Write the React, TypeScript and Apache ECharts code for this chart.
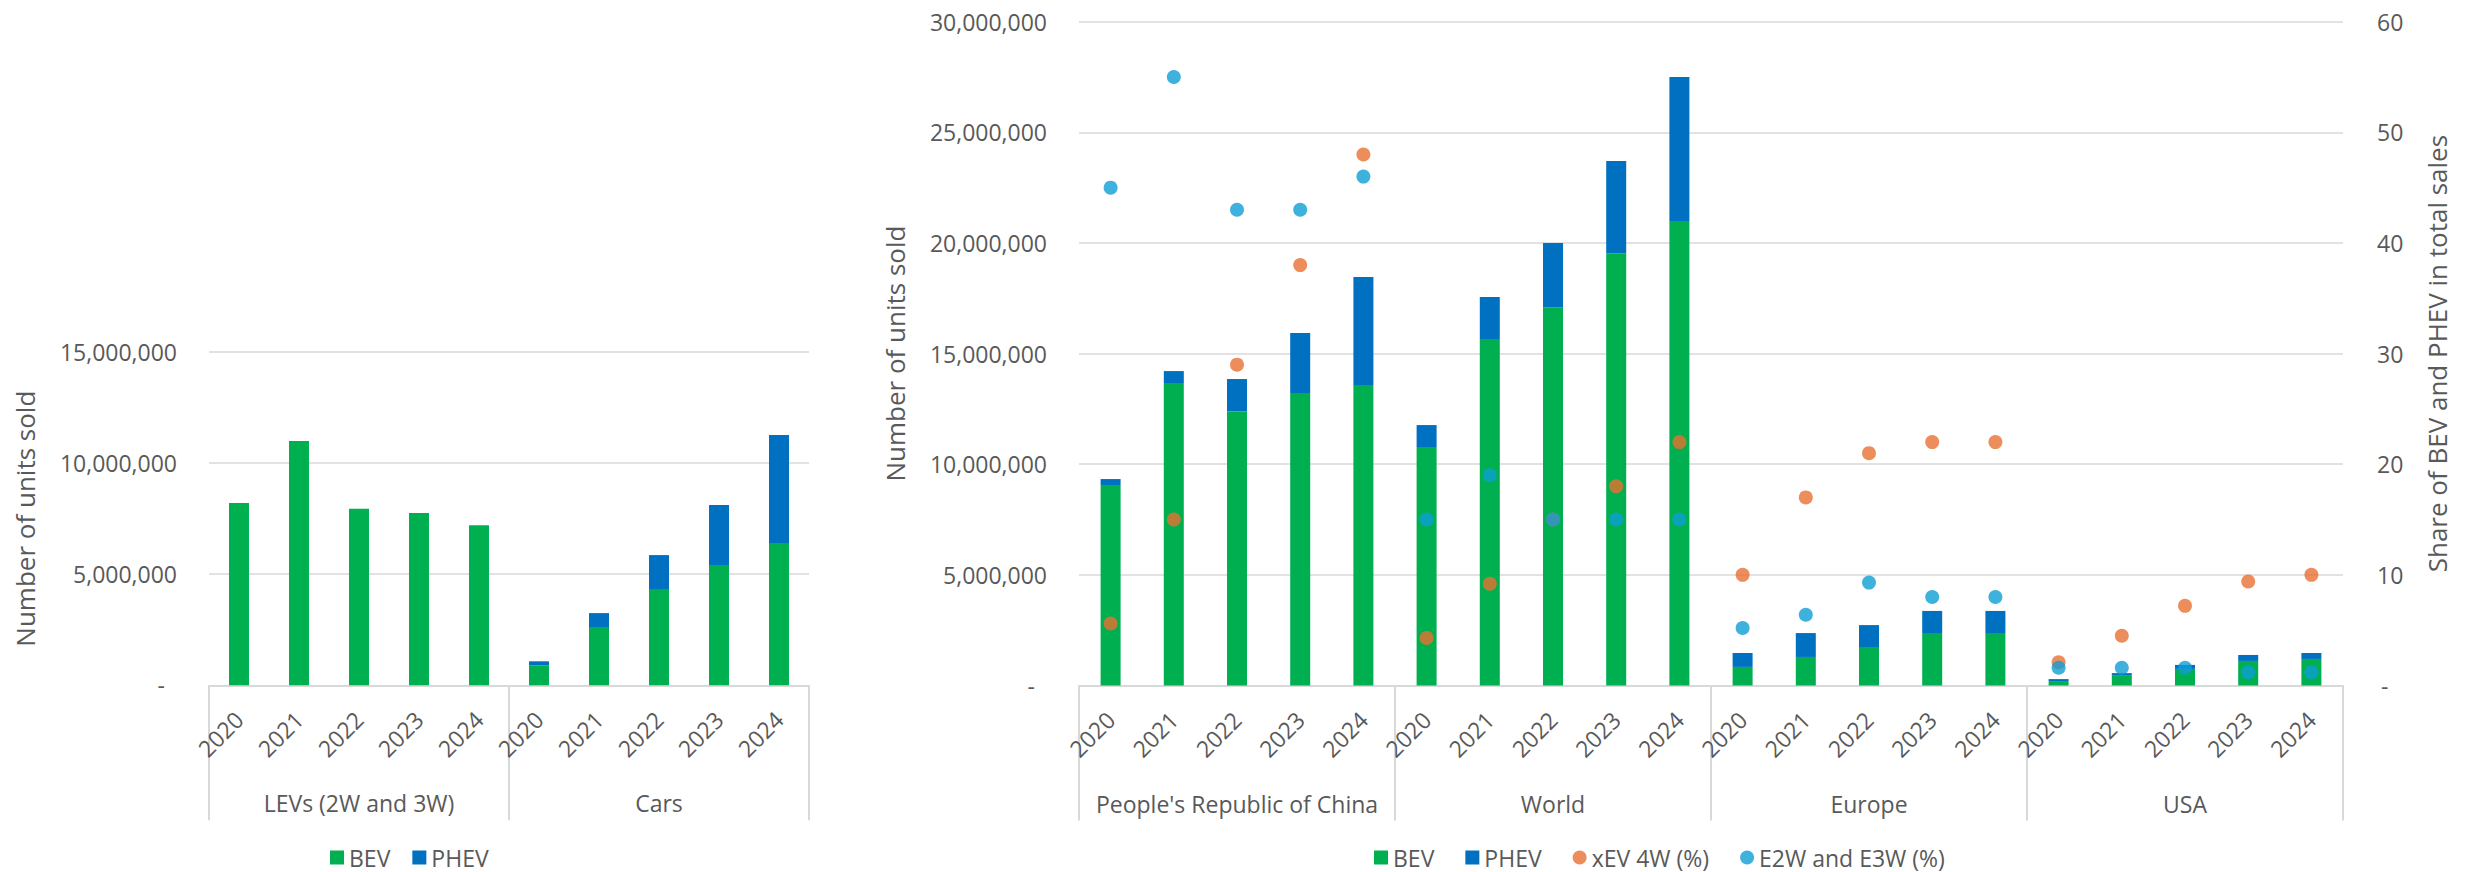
import React, { useEffect, useRef } from "react";
import * as echarts from "echarts";

// ---------- data ----------
const years = ["2020", "2021", "2022", "2023", "2024"];
const leftGroups = ["LEVs (2W and 3W)", "Cars"];
const rightGroups = ["People's Republic of China", "World", "Europe", "USA"];

// Left chart (units sold)
const levBEV = [8200000, 11000000, 7950000, 7750000, 7200000];
const levPHEV = [0, 0, 0, 0, 0];
const carsBEV = [900000, 2620000, 4330000, 5410000, 6400000];
const carsPHEV = [180000, 630000, 1530000, 2700000, 4860000];

// Right chart (units sold)
const chinaBEV = [9060000, 13670000, 12400000, 13220000, 13580000];
const chinaPHEV = [270000, 540000, 1450000, 2710000, 4880000];
const worldBEV = [10780000, 15660000, 17100000, 19540000, 20990000];
const worldPHEV = [990000, 1900000, 2900000, 4160000, 6510000];
const europeBEV = [840000, 1290000, 1740000, 2370000, 2370000];
const europePHEV = [630000, 1080000, 990000, 1000000, 1000000];
const usaBEV = [200000, 470000, 750000, 1110000, 1200000];
const usaPHEV = [90000, 90000, 180000, 270000, 270000];

// Right chart shares (%)
const chinaXEV4W = [5.6, 15, 29, 38, 48];
const worldXEV4W = [4.3, 9.2, 15, 18, 22];
const europeXEV4W = [10, 17, 21, 22, 22];
const usaXEV4W = [2.1, 4.5, 7.2, 9.4, 10];
const chinaE2W = [45, 55, 43, 43, 46];
const worldE2W = [15, 19, 15, 15, 15];
const europeE2W = [5.2, 6.4, 9.3, 8, 8];
const usaE2W = [1.6, 1.6, 1.6, 1.2, 1.2];

// ---------- style ----------
const W = 2469;
const H = 872;
const TEXT = "#595959";
const GRID = "#d9d9d9";
const GREEN = "#00b050";
const BLUE = "#0070c0";
const ORANGE = "#e97132";
const LIGHTBLUE = "#0f9ed5";
const FONT = "Open Sans";
const FS = 23;

const catKeys = (groups: string[]) => groups.flatMap((g) => years.map((y) => g + "|" + y));

const fmtUnits = (v: number) => (v === 0 ? "{z|-}" : v.toLocaleString("en-US"));
const fmtPct = (v: number) => (v === 0 ? "{z|-}" : String(v));

function yearAxis(gridIndex: number, groups: string[]) {
  return {
    type: "category",
    gridIndex,
    data: catKeys(groups),
    position: "bottom",
    axisLine: { show: true, lineStyle: { color: GRID, width: 2 } },
    axisTick: { show: false },
    axisLabel: {
      interval: 0,
      rotate: 45,
      margin: 30,
      color: TEXT,
      fontSize: FS,
      fontFamily: FONT,
      formatter: (v: string) => v.split("|")[1],
    },
    splitLine: { show: false },
  };
}

function groupAxis(gridIndex: number, groups: string[]) {
  return {
    type: "category",
    gridIndex,
    data: groups,
    position: "bottom",
    axisLine: { show: false },
    axisTick: {
      show: true,
      length: 135,
      interval: 0,
      alignWithLabel: false,
      lineStyle: { color: GRID, width: 2 },
    },
    axisLabel: {
      interval: 0,
      margin: 118,
      verticalAlign: "middle",
      color: TEXT,
      fontSize: FS,
      fontFamily: FONT,
    },
    splitLine: { show: false },
  };
}

function valueAxis(
  gridIndex: number,
  max: number,
  interval: number,
  position: string,
  name: string,
  nameGap: number,
  fmt: (v: number) => string,
  showSplit: boolean,
  zeroPad: number[]
) {
  return {
    type: "value",
    gridIndex,
    position,
    min: 0,
    max,
    interval,
    name,
    nameLocation: "middle",
    nameGap,
    nameTextStyle: { color: TEXT, fontSize: 26, fontFamily: FONT },
    axisLine: { show: false },
    axisTick: { show: false },
    axisLabel: {
      margin: position === "right" ? 34 : 32,
      color: TEXT,
      fontSize: FS,
      fontFamily: FONT,
      formatter: fmt,
      rich: { z: { color: TEXT, fontSize: FS, fontFamily: FONT, padding: zeroPad } },
    },
    splitLine: { show: showSplit, lineStyle: { color: GRID, width: 1.5 } },
  };
}

export default function App() {
  const ref = useRef<HTMLDivElement>(null);

  useEffect(() => {
    if (!ref.current) return;
    const chart = echarts.init(ref.current, null, { renderer: "svg" });

    const leftBEV = [...levBEV, ...carsBEV];
    const leftPHEV = [...levPHEV, ...carsPHEV];
    const rightBEV = [...chinaBEV, ...worldBEV, ...europeBEV, ...usaBEV];
    const rightPHEV = [...chinaPHEV, ...worldPHEV, ...europePHEV, ...usaPHEV];
    const xev = [...chinaXEV4W, ...worldXEV4W, ...europeXEV4W, ...usaXEV4W];
    const e2w = [...chinaE2W, ...worldE2W, ...europeE2W, ...usaE2W];

    const legendText = { color: TEXT, fontSize: FS, fontFamily: FONT, lineHeight: 20 };

    const option: any = {
      animation: false,
      backgroundColor: "#ffffff",
      textStyle: { fontFamily: FONT, color: TEXT },
      grid: [
        { left: 209, top: 352, width: 600, height: 333.3 },
        { left: 1079, top: 21.7, width: 1264, height: 663.8 },
      ],
      xAxis: [
        yearAxis(0, leftGroups),
        groupAxis(0, leftGroups),
        yearAxis(1, rightGroups),
        groupAxis(1, rightGroups),
      ],
      yAxis: [
        valueAxis(0, 15000000, 5000000, "left", "Number of units sold", 171, fmtUnits, true, [0, 12, 0, 0]),
        valueAxis(1, 30000000, 5000000, "left", "Number of units sold", 171, fmtUnits, true, [0, 12, 0, 0]),
        valueAxis(1, 60, 10, "right", "Share of BEV and PHEV in total sales", 81, fmtPct, false, [0, 0, 0, 4]),
      ],
      legend: [
        {
          left: 330,
          top: 846,
          padding: 0,
          itemWidth: 14,
          itemHeight: 14,
          itemGap: 22,
          textStyle: legendText,
          data: [
            { name: "BEV", icon: "rect" },
            { name: "PHEV", icon: "rect" },
          ],
        },
        {
          left: 1374,
          top: 846,
          padding: 0,
          itemWidth: 14,
          itemHeight: 14,
          itemGap: 31,
          textStyle: legendText,
          data: [
            { name: "BEV", icon: "rect" },
            { name: "PHEV", icon: "rect" },
            { name: "xEV 4W (%)", icon: "circle" },
            { name: "E2W and E3W (%)", icon: "circle" },
          ],
        },
      ],
      series: [
        {
          name: "BEV",
          type: "bar",
          xAxisIndex: 0,
          yAxisIndex: 0,
          stack: "left",
          barWidth: 20,
          itemStyle: { color: GREEN },
          data: leftBEV,
        },
        {
          name: "PHEV",
          type: "bar",
          xAxisIndex: 0,
          yAxisIndex: 0,
          stack: "left",
          barWidth: 20,
          itemStyle: { color: BLUE },
          data: leftPHEV,
        },
        {
          name: "BEV",
          type: "bar",
          xAxisIndex: 2,
          yAxisIndex: 1,
          stack: "right",
          barWidth: 20,
          itemStyle: { color: GREEN },
          data: rightBEV,
        },
        {
          name: "PHEV",
          type: "bar",
          xAxisIndex: 2,
          yAxisIndex: 1,
          stack: "right",
          barWidth: 20,
          itemStyle: { color: BLUE },
          data: rightPHEV,
        },
        {
          name: "xEV 4W (%)",
          type: "scatter",
          xAxisIndex: 2,
          yAxisIndex: 2,
          symbol: "circle",
          symbolSize: 14,
          itemStyle: { color: ORANGE },
          z: 3,
          data: xev,
        },
        {
          name: "E2W and E3W (%)",
          type: "scatter",
          xAxisIndex: 2,
          yAxisIndex: 2,
          symbol: "circle",
          symbolSize: 14,
          itemStyle: { color: LIGHTBLUE },
          z: 4,
          data: e2w,
        },
      ],
    };

    chart.setOption(option);
    return () => chart.dispose();
  }, []);

  return (
    <div
      ref={ref}
      style={{ position: "absolute", left: 0, top: 0, width: W, height: H, background: "#fff" }}
    />
  );
}
